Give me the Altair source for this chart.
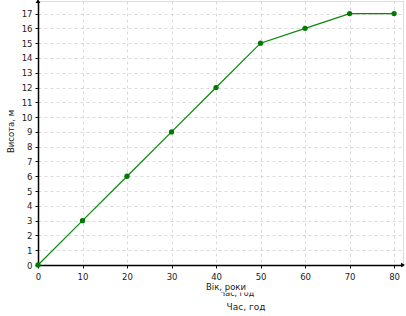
import altair as alt
import pandas as pd

ages = [0, 10, 20, 30, 40, 50, 60, 70, 80]
heights = [0, 3, 6, 9, 12, 15, 16, 17, 17]
x_ticks = [0, 10, 20, 30, 40, 50, 60, 70, 80]
y_ticks = list(range(0, 18))

df = pd.DataFrame({"age": ages, "height": heights})

XMAX = 82
YMAX = 17.85

xs = alt.Scale(domain=[0, XMAX], nice=False, zero=False)
ys = alt.Scale(domain=[0, YMAX], nice=False, zero=False)

font = "DejaVu Sans"

xaxis = alt.Axis(values=x_ticks, title=None, grid=True, gridDash=[3, 3], gridColor="#d0d0d0",
                 gridWidth=0.8, domainColor="black", domainWidth=1.5, tickSize=3,
                 tickColor="black", labelFont=font, labelFontSize=8.5, labelColor="#222",
                 labelPadding=4, labelOverlap=False, labelFlush=False)
yaxis = alt.Axis(values=y_ticks, title="Висота, м", grid=True, gridDash=[3, 3], gridColor="#d0d0d0",
                 gridWidth=0.8, domainColor="black", domainWidth=1.5, tickSize=3,
                 tickColor="black", labelFont=font, labelFontSize=8.5, labelColor="#222",
                 labelPadding=3, labelOverlap=False, labelFlush=False, titleFont=font,
                 titleFontSize=8.5, titleFontWeight="normal", titleColor="#222",
                 titlePadding=6, titleY=130)

X = alt.X("age:Q", scale=xs, axis=xaxis)
Y = alt.Y("height:Q", scale=ys, axis=yaxis)

base = alt.Chart(df)
line = base.mark_line(color="#078a07", strokeWidth=1.2).encode(x=X, y=Y)
pts = base.mark_circle(color="#007a00", size=28, opacity=1).encode(x=X, y=Y)

arrows_df = pd.DataFrame({"x": [XMAX, 0], "y": [0, YMAX], "shape": ["triangle-right", "triangle-up"]})
arrows = alt.Chart(arrows_df).mark_point(filled=True, color="black", size=22, opacity=1).encode(
    x=alt.X("x:Q", scale=xs, axis=xaxis),
    y=alt.Y("y:Q", scale=ys, axis=yaxis),
    shape=alt.Shape("shape:N", scale=None),
)

one = alt.Chart(df).transform_filter("datum.age == 0")
t1 = one.mark_text(text="Час, год", font=font, fontSize=8, color="#222").encode(
    x=alt.value(199), y=alt.value(292.5)
)
cover = one.mark_rect(color="white").encode(
    x=alt.value(175), x2=alt.value(228), y=alt.value(283), y2=alt.value(291.5)
)
t2 = one.mark_text(text="Вік, роки", font=font, fontSize=8.5, color="#222").encode(
    x=alt.value(188), y=alt.value(286)
)
t3 = one.mark_text(text="Час, год", font=font, fontSize=9, color="#222").encode(
    x=alt.value(208), y=alt.value(306)
)

chart = alt.layer(line, pts, arrows, t1, cover, t2, t3).properties(
    width=365, height=264,
    autosize=alt.AutoSizeParams(type="none"),
    padding={"left": 38, "top": 1, "right": 3, "bottom": 51},
).configure_view(stroke=None).configure(background="white")

chart.save("out.html", embed_options={"renderer": "svg", "actions": False})
